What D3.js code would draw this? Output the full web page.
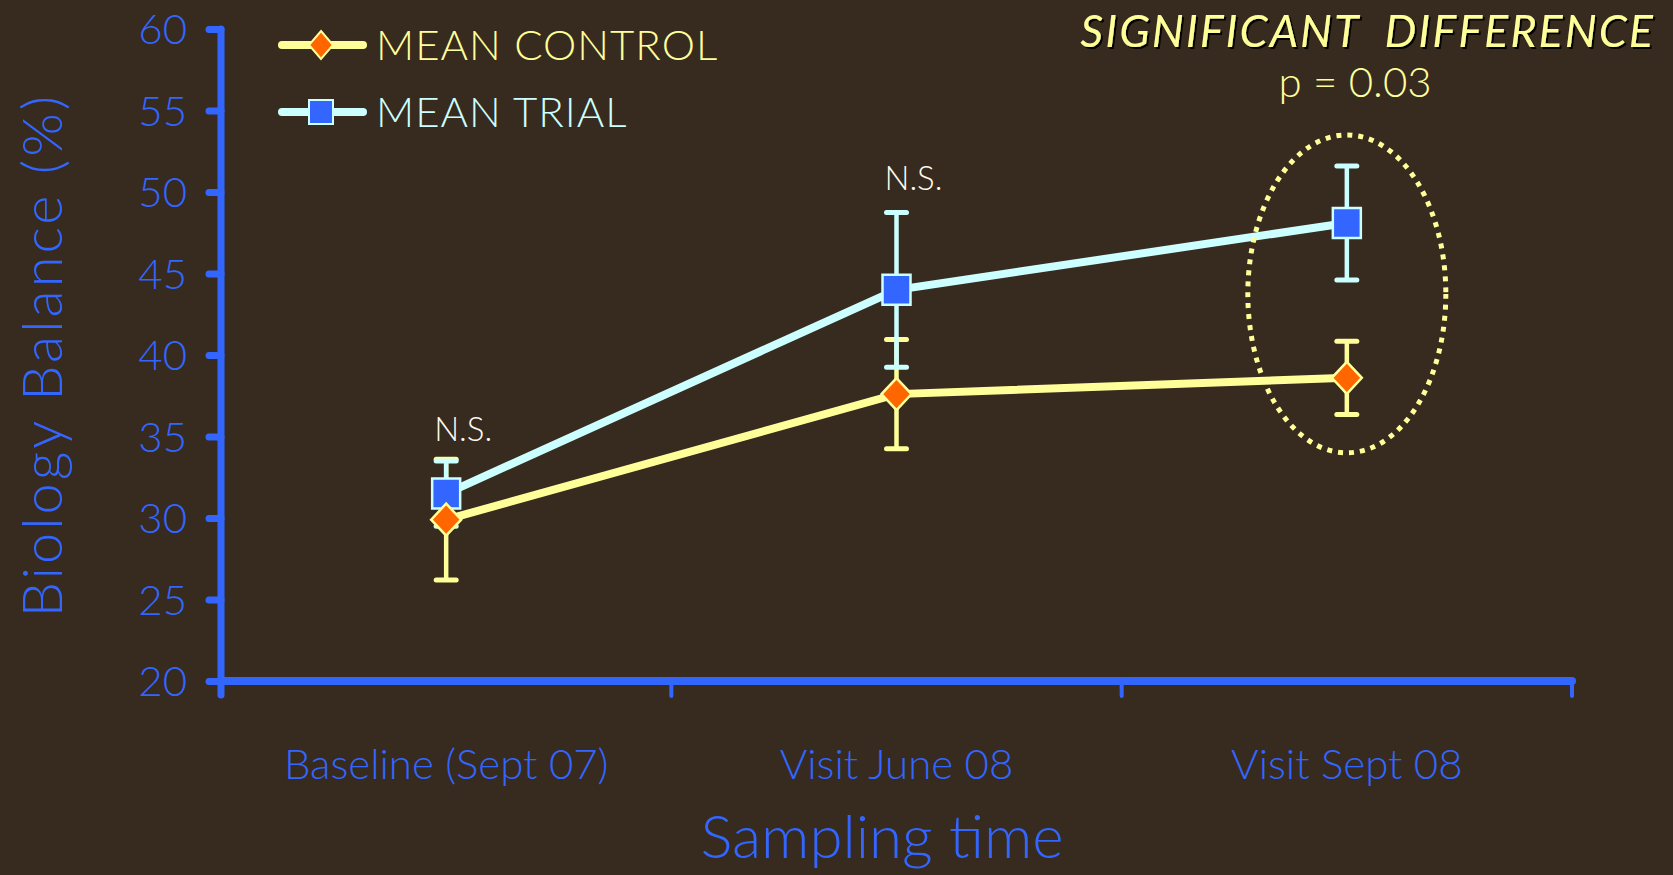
<!DOCTYPE html>
<html>
<head>
<meta charset="utf-8">
<script src="https://cdn.jsdelivr.net/npm/d3@7"></script>
<style>
  html, body { margin: 0; padding: 0; background: #372a1e; }
  text { font-family: Lato, "Open Sans", sans-serif; font-weight: 300; white-space: pre; }
</style>
</head>
<body>
<div id="chart"></div>
<script>
var width = 1673,
    height = 875,
    margin = {"top": 29, "right": 101, "bottom": 194, "left": 221};

// data
var categories = ["Baseline (Sept 07)", "Visit June 08", "Visit Sept 08"];
var controlMean = [29.9, 37.6, 38.6];
var controlErr = [3.7, 3.35, 2.25];
var trialMean = [31.5, 44.0, 48.1];
var trialErr = [2.0, 4.75, 3.5];
var yTicks = [20, 25, 30, 35, 40, 45, 50, 55, 60];
var nsLabels = [{cat: 0, value: 34.7, text: "N.S."}, {cat: 1, value: 50.1, text: "N.S."}];
var sigEllipse = {cat: 2, top: 53.5, bottom: 34.0};

var innerW = width - margin.left - margin.right,
    innerH = height - margin.top - margin.bottom;

var svg = d3.select("#chart")
  .append("svg")
  .attr("width", width)
  .attr("height", height)
  .style("background", "#372a1e");

var defs = svg.append("defs");
var shadow = defs.append("filter").attr("id", "shadow");
shadow.append("feDropShadow")
  .attr("dx", 2).attr("dy", 2).attr("stdDeviation", 0.6)
  .attr("flood-color", "#000").attr("flood-opacity", 0.9);

var g = svg.append("g")
  .attr("transform", "translate(" + margin.left + "," + margin.top + ")");

var x = d3.scaleBand().domain(categories).range([0, innerW]);
var y = d3.scaleLinear().domain([20, 60]).range([innerH, 0]);
var cx = function(i) { return x(categories[i]) + x.bandwidth() / 2; };

var blue = "#3366ff";

// y axis
var yAxis = g.append("g").call(d3.axisLeft(y).tickValues(yTicks).tickSize(12).tickPadding(22));
yAxis.select(".domain").remove();
yAxis.selectAll(".tick line").attr("stroke", blue).attr("stroke-width", 7).attr("stroke-linecap", "round");
yAxis.selectAll(".tick text").attr("fill", blue).style("font-size", "42px").attr("dy", "0.35em");
g.append("line")
  .attr("x1", 0).attr("x2", 0).attr("y1", y(60)).attr("y2", innerH + 14)
  .attr("stroke", blue).attr("stroke-width", 7).attr("stroke-linecap", "round");

// x axis
var xAxis = g.append("g")
  .attr("transform", "translate(0," + innerH + ")")
  .call(d3.axisBottom(x).tickSize(0).tickPadding(68));
xAxis.select(".domain").remove();
xAxis.selectAll(".tick text").attr("fill", blue).style("font-size", "42px");
g.append("line")
  .attr("x1", 0).attr("x2", innerW).attr("y1", innerH).attr("y2", innerH)
  .attr("stroke", blue).attr("stroke-width", 8).attr("stroke-linecap", "round");
var bounds = categories.map(function(c) { return x(c); }).concat([innerW]);
g.selectAll(".xsep")
  .data(bounds)
  .enter()
  .append("line")
  .attr("x1", d => d).attr("x2", d => d)
  .attr("y1", innerH).attr("y2", innerH + 15)
  .attr("stroke", blue).attr("stroke-width", 4).attr("stroke-linecap", "round");

// axis titles
svg.append("text")
  .attr("transform", "translate(62," + (margin.top + y(40)) + ") rotate(-90)")
  .attr("text-anchor", "middle")
  .attr("fill", blue)
  .style("font-size", "56px")
  .style("letter-spacing", "3px")
  .text("Biology Balance (%)");

svg.append("text")
  .attr("x", 882)
  .attr("y", 858)
  .attr("text-anchor", "middle")
  .attr("fill", blue)
  .style("font-size", "60px")
  .text("Sampling time");

// series lines and error bars
function drawSeries(means, errs, lineColor) {
  var pts = means.map(function(v, i) { return {i: i, v: v, e: errs[i]}; });

  g.append("path")
    .datum(pts)
    .attr("fill", "none")
    .attr("stroke", lineColor)
    .attr("stroke-width", 8)
    .attr("d", d3.line().x(d => cx(d.i)).y(d => y(d.v)));

  var eb = g.selectAll(null).data(pts).enter().append("g");
  eb.append("line")
    .attr("x1", d => cx(d.i)).attr("x2", d => cx(d.i))
    .attr("y1", d => y(d.v + d.e)).attr("y2", d => y(d.v - d.e))
    .attr("stroke", lineColor).attr("stroke-width", 4.5);
  [1, -1].forEach(function(s) {
    eb.append("line")
      .attr("x1", d => cx(d.i) - 10).attr("x2", d => cx(d.i) + 10)
      .attr("y1", d => y(d.v + s * d.e)).attr("y2", d => y(d.v + s * d.e))
      .attr("stroke", lineColor).attr("stroke-width", 5).attr("stroke-linecap", "round");
  });

  return pts;
}

function drawMarkers(pts, lineColor, markerFill, shape) {
  g.selectAll(null)
    .data(pts)
    .enter()
    .append("path")
    .attr("transform", d => "translate(" + cx(d.i) + "," + y(d.v) + ")")
    .attr("d", shape)
    .attr("fill", markerFill)
    .attr("stroke", lineColor)
    .attr("stroke-width", 2.5);
}

var diamond = "M0,-16L15,0L0,16L-15,0Z";
var square = "M-14,-15H14V15H-14Z";

var controlPts = drawSeries(controlMean, controlErr, "#ffff99");
var trialPts = drawSeries(trialMean, trialErr, "#ccffff");
drawMarkers(trialPts, "#ccffff", blue, square);
drawMarkers(controlPts, "#ffff99", "#ff6600", diamond);

// dotted ellipse round the last visit
g.append("ellipse")
  .attr("cx", cx(sigEllipse.cat))
  .attr("cy", (y(sigEllipse.top) + y(sigEllipse.bottom)) / 2)
  .attr("rx", 99)
  .attr("ry", (y(sigEllipse.bottom) - y(sigEllipse.top)) / 2)
  .attr("fill", "none")
  .attr("stroke", "#ffff99")
  .attr("stroke-width", 5)
  .attr("stroke-dasharray", "5,6");

// N.S. labels
g.selectAll(".ns")
  .data(nsLabels)
  .enter()
  .append("text")
  .attr("x", d => cx(d.cat) + 17)
  .attr("y", d => y(d.value))
  .attr("text-anchor", "middle")
  .attr("fill", "#fffaf0")
  .style("font-size", "33px")
  .text(d => d.text);

// annotation
svg.append("text")
  .attr("x", 1655)
  .attr("y", 47)
  .attr("text-anchor", "end")
  .attr("fill", "#ffff99")
  .attr("filter", "url(#shadow)")
  .style("font-size", "45px")
  .style("font-style", "italic")
  .style("font-weight", "400")
  .style("letter-spacing", "2px")
  .text("SIGNIFICANT  DIFFERENCE");

svg.append("text")
  .attr("x", 1355)
  .attr("y", 97)
  .attr("text-anchor", "middle")
  .attr("fill", "#ffff99")
  .style("font-size", "42px")
  .text("p = 0.03");

// legend
var legend = [
  {label: "MEAN CONTROL", color: "#ffff99", fill: "#ff6600", shape: "diamond", y: 45},
  {label: "MEAN TRIAL", color: "#ccffff", fill: blue, shape: "square", y: 112}
];
var lg = svg.selectAll(".legend").data(legend).enter().append("g")
  .attr("transform", d => "translate(0," + d.y + ")");
lg.append("line")
  .attr("x1", 282).attr("x2", 363).attr("y1", 0).attr("y2", 0)
  .attr("stroke", d => d.color).attr("stroke-width", 8).attr("stroke-linecap", "round");
lg.append("path")
  .attr("transform", "translate(321,0)")
  .attr("d", d => d.shape === "diamond" ? "M0,-14L12,0L0,14L-12,0Z" : "M-12,-12H12V12H-12Z")
  .attr("fill", d => d.fill)
  .attr("stroke", d => d.color)
  .attr("stroke-width", 2);
lg.append("text")
  .attr("x", 376).attr("y", 0).attr("dy", "0.35em")
  .attr("fill", d => d.color)
  .style("font-size", "42px")
  .style("letter-spacing", "1px")
  .text(d => d.label);
</script>
</body>
</html>
